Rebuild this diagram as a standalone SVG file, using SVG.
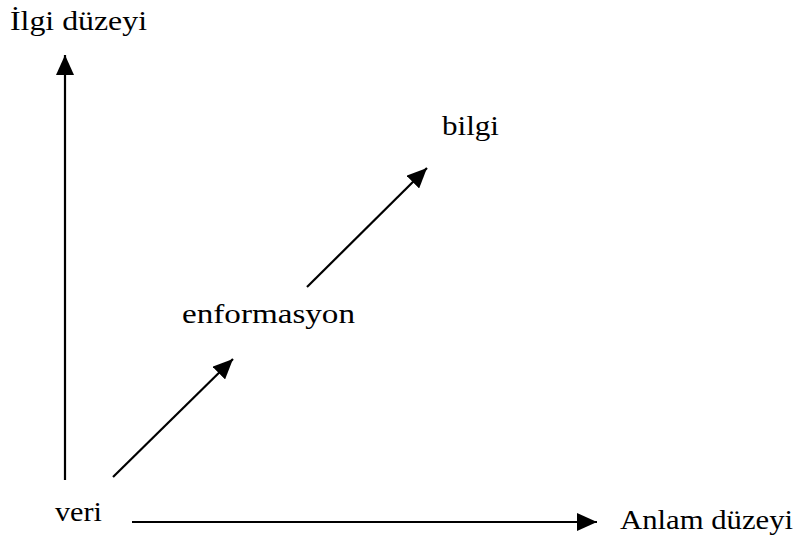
<svg xmlns="http://www.w3.org/2000/svg" width="797" height="540" viewBox="0 0 797 540">
<style>
text{font-family:"Liberation Serif","Times New Roman",serif;font-size:28px;fill:#000}
.ln{stroke:#000;stroke-width:2.2;fill:none}
</style>
<defs>
<marker id="ah" viewBox="0 0 20 18" refX="20" refY="9" markerWidth="20" markerHeight="18" markerUnits="userSpaceOnUse" orient="auto">
<path d="M0,0 L20,9 L0,18 Z" fill="#000"/>
</marker>
</defs>
<rect width="797" height="540" fill="#fff"/>
<g id="connectors">
<line class="ln" x1="65" y1="480" x2="65" y2="55" marker-end="url(#ah)"/>
<line class="ln" x1="132" y1="522" x2="597" y2="522" marker-end="url(#ah)"/>
<line class="ln" x1="113" y1="477" x2="233" y2="359" marker-end="url(#ah)"/>
<line class="ln" x1="307" y1="287" x2="427" y2="168" marker-end="url(#ah)"/>
</g>
<g id="y-axis-label"><text x="10" y="30" textLength="137" lengthAdjust="spacingAndGlyphs">İlgi düzeyi</text></g>
<g id="x-axis-label"><text x="620" y="529" textLength="173" lengthAdjust="spacingAndGlyphs">Anlam düzeyi</text></g>
<g id="veri"><text x="55" y="521" textLength="47" lengthAdjust="spacingAndGlyphs">veri</text></g>
<g id="enformasyon"><text x="182" y="323" textLength="173" lengthAdjust="spacingAndGlyphs">enformasyon</text></g>
<g id="bilgi"><text x="442" y="135" textLength="57" lengthAdjust="spacingAndGlyphs">bilgi</text></g>
</svg>
